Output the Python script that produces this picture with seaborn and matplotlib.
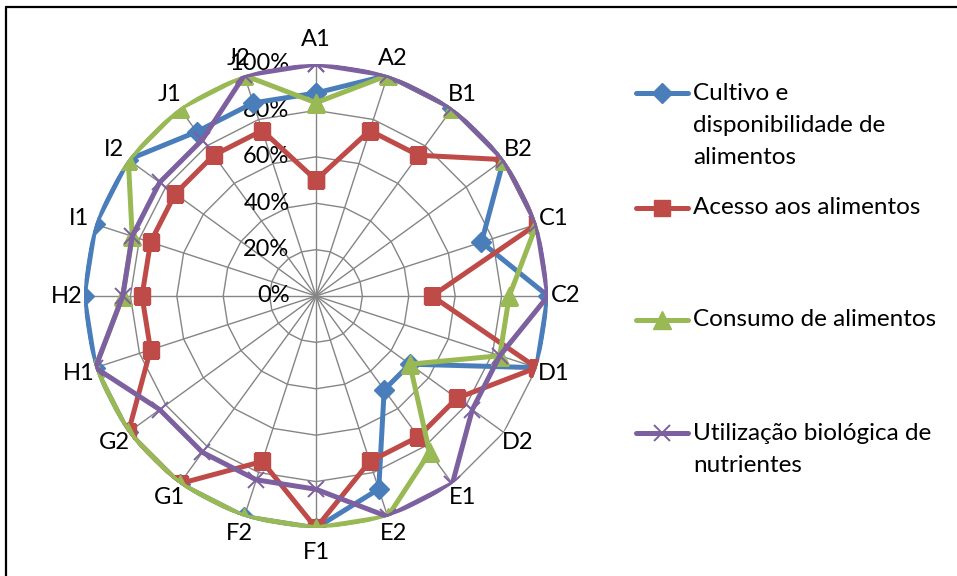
import numpy as np
import pandas as pd
import matplotlib
matplotlib.use("Agg")
import matplotlib.pyplot as plt
import seaborn as sns

sns.set_theme(style="white")
plt.rcParams["font.family"] = ["Lato", "DejaVu Sans"]

categories = ["A1", "A2", "B1", "B2", "C1", "C2", "D1", "D2", "E1", "E2",
              "F1", "F2", "G1", "G2", "H1", "H2", "I1", "I2", "J1", "J2"]

cultivo = [0.875, 1.0, 1.0, 1.0, 0.75, 1.0, 1.0, 0.5, 0.5, 0.875,
           1.0, 1.0, 1.0, 1.0, 1.0, 1.0, 1.0, 1.0, 0.875, 0.875]
acesso = [0.5, 0.75, 0.75, 1.0, 1.0, 0.5, 1.0, 0.75, 0.75, 0.75,
          1.0, 0.75, 1.0, 1.0, 0.75, 0.75, 0.75, 0.75, 0.75, 0.75]
consumo = [0.833, 1.0, 1.0, 1.0, 1.0, 0.833, 0.833, 0.5, 0.833, 1.0,
           1.0, 1.0, 1.0, 1.0, 1.0, 0.833, 0.833, 1.0, 1.0, 1.0]
utilizacao = [1.0, 1.0, 1.0, 1.0, 1.0, 1.0, 0.833, 0.833, 1.0, 1.0,
              0.833, 0.833, 0.833, 0.833, 1.0, 0.833, 0.833, 0.833, 0.833, 1.0]

series_names = ["Cultivo e\ndisponibilidade de\nalimentos",
                "Acesso aos alimentos",
                "Consumo de alimentos",
                "Utilização biológica de\nnutrientes"]
series_values = [cultivo, acesso, consumo, utilizacao]
colors = ["#4A7EBB", "#BE4B48", "#98B954", "#7D60A0"]
markers = ["D", "s", "^", "x"]
marker_sizes = [10, 12, 13, 12]
marker_edge = [1.0, 1.0, 1.0, 1.4]

radial_ticks = [0.0, 0.2, 0.4, 0.6, 0.8, 1.0]
radial_labels = ["0%", "20%", "40%", "60%", "80%", "100%"]

W, H, DPI = 957, 576, 100
fig = plt.figure(figsize=(W / DPI, H / DPI), dpi=DPI)
fig.patch.set_facecolor("white")

cx, cy, R = 316, 296, 232
ax = fig.add_axes([(cx - R) / W, (H - cy - R) / H, 2 * R / W, 2 * R / H],
                  projection="polar")
ax.set_theta_zero_location("N")
ax.set_theta_direction(-1)
ax.set_ylim(0, 1)
ax.grid(False)
ax.spines["polar"].set_visible(False)
ax.set_xticks([])
ax.set_yticks([])
ax.patch.set_alpha(0)

n = len(categories)
theta = np.arange(n) * 2 * np.pi / n
theta_closed = np.append(theta, 2 * np.pi)

# polygonal web: rings and spokes
grid_color = "#858585"
for r in radial_ticks[1:]:
    ax.plot(theta_closed, np.full(n + 1, r), color=grid_color, lw=1.0, zorder=1)
for t in theta:
    ax.plot([t, t], [0, 1], color=grid_color, lw=1.0, zorder=1)

# radial percentage labels
for r, lab in zip(radial_ticks, radial_labels):
    ax.annotate(lab, xy=(0, r), xytext=(-19, 0), textcoords="offset points",
                ha="right", va="center", fontsize=17, color="black", zorder=2)

# category labels around the web
for t, lab in zip(theta, categories):
    rl = 1.105 if abs(np.cos(t)) > 0.99 else 1.075
    ax.text(t, rl, lab, ha="center", va="center", fontsize=17, color="black",
            clip_on=False)

# data series
for name, vals, c, m, ms, mew in zip(series_names, series_values, colors,
                                     markers, marker_sizes, marker_edge):
    df = pd.DataFrame({"theta": theta_closed, "valor": np.append(vals, vals[0])})
    sns.lineplot(data=df, x="theta", y="valor", sort=False, estimator=None,
                 ax=ax, color=c, lw=3.6, marker=m, markersize=ms,
                 markeredgecolor=c, markeredgewidth=mew, zorder=3)
ax.set_xlabel("")
ax.set_ylabel("")
ax.set_ylim(0, 1)

# overlay in pixel coordinates for frame and legend
ov = fig.add_axes([0, 0, 1, 1])
ov.set_xlim(0, W)
ov.set_ylim(H, 0)
ov.axis("off")
ov.patch.set_alpha(0)
ov.plot([6, W + 5], [7, 7], color="black", lw=1.6)
ov.plot([6, 6], [7, H + 5], color="black", lw=1.6)

legend_y = [93, 208, 320, 433]
line_pitch = 32.5
for name, c, m, ms, mew, y in zip(series_names, colors, markers, marker_sizes,
                                  marker_edge, legend_y):
    ov.plot([636, 688], [y, y], color=c, lw=3.6, solid_capstyle="round")
    ov.plot([662], [y], marker=m, color=c, markersize=ms, markeredgecolor=c,
            markeredgewidth=mew)
    for k, line in enumerate(name.split("\n")):
        ov.text(693, y + k * line_pitch, line, ha="left", va="center",
                fontsize=17.5, color="black")

fig.savefig("out.png", dpi=DPI, facecolor="white")
